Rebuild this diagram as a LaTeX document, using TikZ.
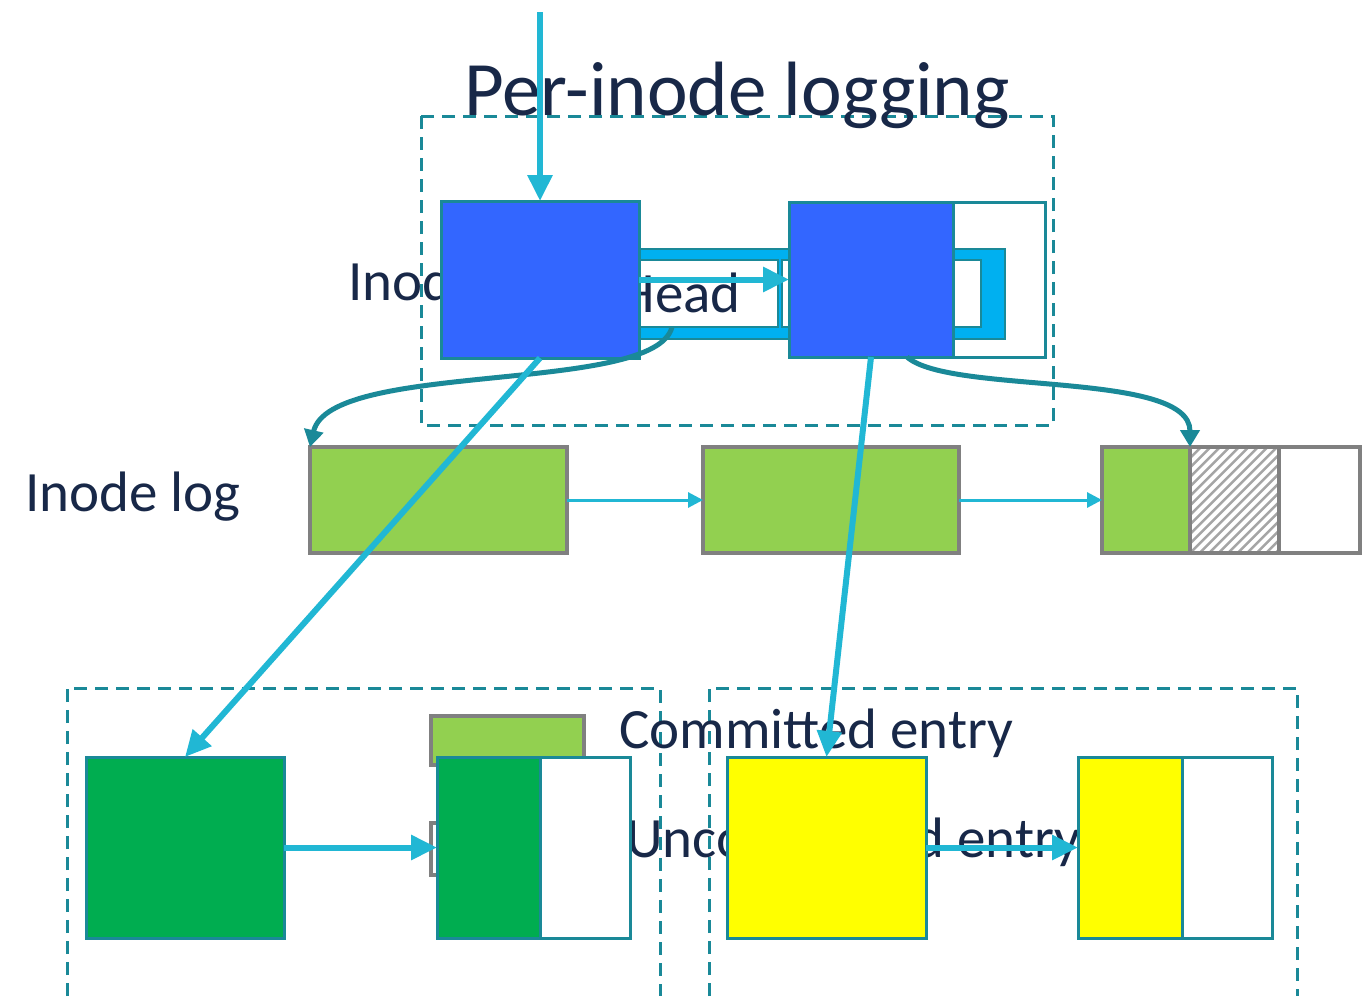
\documentclass[tikz,border=0pt]{standalone}
\usepackage{fontspec}
\setmainfont{Carlito}
\usetikzlibrary{arrows.meta}

\definecolor{ink}{RGB}{24,40,72}
\definecolor{frameteal}{RGB}{26,137,152}
\definecolor{linkcyan}{RGB}{33,183,212}
\definecolor{bandcyan}{RGB}{0,176,240}
\definecolor{inodeblue}{RGB}{51,102,255}
\definecolor{loggreen}{RGB}{146,208,80}
\definecolor{entrygreen}{RGB}{0,173,80}
\definecolor{pageyellow}{RGB}{255,255,0}
\definecolor{loggray}{RGB}{128,128,128}
\definecolor{hatchgray}{RGB}{165,165,165}

\tikzset{
  cell/.style={anchor=north west, inner sep=0pt, outer sep=0pt, draw=frameteal, line width=3pt},
  logcell/.style={anchor=north west, inner sep=0pt, outer sep=0pt, draw=loggray, line width=4pt},
  dashedframe/.style={draw=frameteal, line width=3pt, dash pattern=on 13pt off 8pt},
  label/.style={inner sep=0pt, text=ink, font=\fontsize{57}{60}\selectfont},
  link/.style={draw=linkcyan, line width=6pt, -{Triangle[length=26pt,width=24pt]}},
  thinlink/.style={draw=linkcyan, line width=3pt, -{Triangle[length=15pt,width=15pt]}},
  tealcurve/.style={draw=frameteal, line width=5pt, -{Triangle[length=17pt,width=19pt]}},
}

\begin{document}
\begin{tikzpicture}[x=1pt,y=-1pt]
\useasboundingbox (0,0) rectangle (1372,996);
\fill[white] (0,0) rectangle (1372,996);

% frames
\draw[dashedframe] (421,116) rectangle (1053,425);
\draw[dashedframe] (67,996) -- (67,688) -- (660,688) -- (660,996);
\draw[dashedframe] (709,996) -- (709,688) -- (1297,688) -- (1297,996);

% title
\node[label, font=\fontsize{77}{80}\selectfont, anchor=base] (title) at (737,115) {Per-inode logging};

% inode structure
\node[cell, fill=white, minimum width=256pt, minimum height=155pt] (b2w) at (789,202) {};
\node[cell, line width=2.5pt, fill=bandcyan, minimum width=535pt, minimum height=90pt] (band) at (470,249) {};
\node[cell, line width=2.5pt, fill=white, minimum width=178pt, minimum height=67pt] (head) at (600,260) {};
\node[cell, line width=2.5pt, fill=white, minimum width=199pt, minimum height=67pt] (tailbox) at (782,260) {};
\node[label, anchor=base west] (inodetxt) at (348,300) {Inode};
\node[label, anchor=base east] (headtxt) at (741,312) {Head};
\node[cell, fill=inodeblue, minimum width=198pt, minimum height=157pt] (b1) at (441,201) {};
\node[cell, fill=inodeblue, minimum width=164pt, minimum height=155pt] (b2) at (789,202) {};

% inode log
\node[label, anchor=base west] (logtxt) at (25,511) {Inode log};
\node[logcell, fill=loggreen, minimum width=257pt, minimum height=106pt] (l1) at (310,447) {};
\node[logcell, fill=loggreen, minimum width=256pt, minimum height=106pt] (l2) at (703,447) {};
\node[logcell, fill=white, minimum width=258pt, minimum height=106pt] (l3) at (1102,447) {};
\begin{scope}
  \clip (1190,447) rectangle (1279,553);
  \foreach \k in {-12,...,10}
    \draw[hatchgray, line width=2.5pt] ({1190+9.5*\k},553) -- ++(106,-106);
\end{scope}
\node[logcell, fill=loggreen, minimum width=88pt, minimum height=106pt] (l3g) at (1102,447) {};
\node[logcell, minimum width=89pt, minimum height=106pt] (l3h) at (1190,447) {};

% legend swatches and texts
\node[logcell, fill=loggreen, minimum width=153pt, minimum height=49pt] (swc) at (431,716) {};
\node[logcell, fill=white, minimum width=153pt, minimum height=52pt] (swu) at (431,823) {};
\node[label, anchor=base west] (comtxt) at (619,748) {Committed entry};
\node[label, anchor=base west] (uncomtxt) at (626,857) {Uncommitted entry};

% file pages
\node[cell, fill=entrygreen, minimum width=198pt, minimum height=181pt] (g1) at (86,757) {};
\node[cell, fill=white, minimum width=193pt, minimum height=181pt] (g2) at (437,757) {};
\node[cell, fill=entrygreen, minimum width=103pt, minimum height=181pt] (g2a) at (437,757) {};
\node[cell, fill=pageyellow, minimum width=199pt, minimum height=181pt] (y1) at (727,757) {};
\node[cell, fill=white, minimum width=194pt, minimum height=181pt] (y2) at (1078,757) {};
\node[cell, fill=pageyellow, minimum width=104pt, minimum height=181pt] (y2a) at (1078,757) {};

% pointers
\coordinate (entry) at (540,12);
\coordinate (headout) at (672,327);
\coordinate (tailout) at (907,357);
\draw[link] (entry) -- (b1.north);
\draw[link] (b1.east) -- (b2.west);
\draw[tealcurve] (headout) .. controls (655,395) and (330,360) .. (l1.north west);
\draw[tealcurve] (tailout) .. controls (950,395) and (1190,370) .. (l3g.north east);
\draw[thinlink] (l1.east) -- (l2.west);
\draw[thinlink] (l2.east) -- (l3.west);
\draw[link] (b1.south) -- (g1.north);
\draw[link] (b2.south) -- (y1.north);
\draw[link] (g1.east) -- (g2.west);
\draw[link] (y1.east) -- (y2.west);
\end{tikzpicture}
\end{document}
